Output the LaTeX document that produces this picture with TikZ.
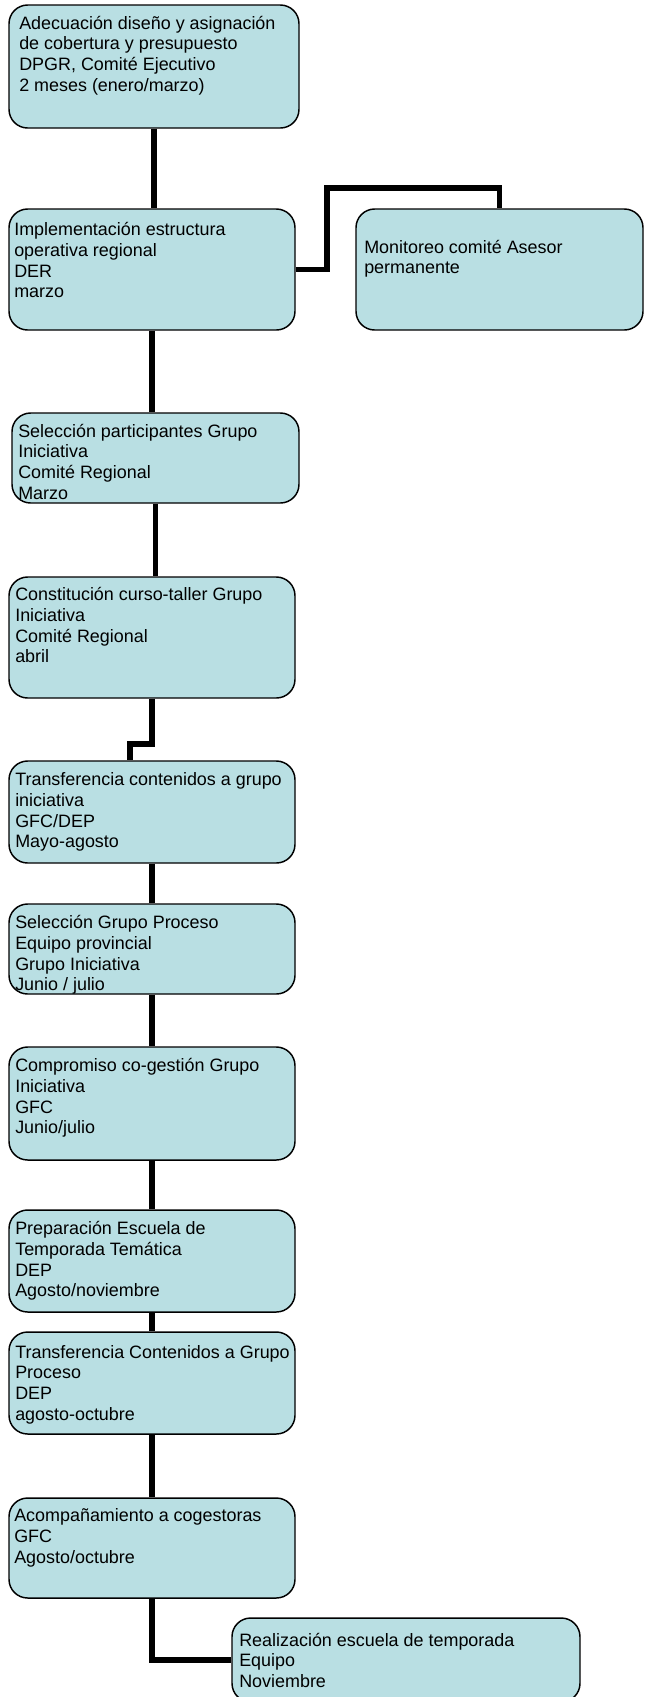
\documentclass[tikz,border=0pt]{standalone}
\usepackage{fontspec}
\setmainfont{Liberation Sans}
\usetikzlibrary{fit}
\definecolor{boxfill}{RGB}{185,223,227}
\newcommand{\firstrule}{\rule{0pt}{12pt}}
\begin{document}
\begin{tikzpicture}[x=0.75pt,y=-0.75pt,
  box/.style={draw=black,line width=1.1pt,fill=boxfill,rounded corners=14pt,inner sep=0pt},
  txt/.style={anchor=north west,inner sep=0pt,align=left,font=\fontsize{13.45}{15.5}\selectfont},
  conn/.style={draw=black,line width=4pt,line join=miter}]
\useasboundingbox (0,0) rectangle (644,1697);
% boxes
\node[box, fit={(9,5) (299,128)}] (b1) {};
\node[box, fit={(9,209) (295,330)}] (b2) {};
\node[box, fit={(356,209) (643,330)}] (m) {};
\node[box, fit={(12,413) (299,503)}] (b3) {};
\node[box, fit={(9,577) (295,698)}] (b4) {};
\node[box, fit={(9,761) (295,863)}] (b5) {};
\node[box, fit={(9,904) (295,994)}] (b6) {};
\node[box, fit={(9,1047) (295,1160)}] (b7) {};
\node[box, fit={(9,1210) (295,1312)}] (b8) {};
\node[box, fit={(9,1332) (295,1434)}] (b9) {};
\node[box, fit={(9,1498) (295,1598)}] (b10) {};
\node[box, fit={(232,1618) (580,1702)}] (b11) {};
% texts
\node[txt] (t1) at (19,13) {\firstrule Adecuación diseño y asignación\\de cobertura y presupuesto\\DPGR, Comité Ejecutivo\\2 meses (enero/marzo)};
\node[txt] (t2) at (14,219.5) {\firstrule Implementación estructura\\operativa regional\\DER\\marzo};
\node[txt] (tm) at (364,237) {\firstrule Monitoreo comité Asesor\\permanente};
\node[txt] (t3) at (18,421) {\firstrule Selección participantes Grupo\\Iniciativa\\Comité Regional\\Marzo};
\node[txt] (t4) at (15,584.5) {\firstrule Constitución curso-taller Grupo\\Iniciativa\\Comité Regional\\abril};
\node[txt] (t5) at (15,769.5) {\firstrule Transferencia contenidos a grupo\\iniciativa\\GFC/DEP\\Mayo-agosto};
\node[txt] (t6) at (15,912.5) {\firstrule Selección Grupo Proceso\\Equipo provincial\\Grupo Iniciativa\\Junio / julio};
\node[txt] (t7) at (15,1055.5) {\firstrule Compromiso co-gestión Grupo\\Iniciativa\\GFC\\Junio/julio};
\node[txt] (t8) at (15,1218.5) {\firstrule Preparación Escuela de\\Temporada Temática\\DEP\\Agosto/noviembre};
\node[txt] (t9) at (15,1342) {\firstrule Transferencia Contenidos a Grupo\\Proceso\\DEP\\agosto-octubre};
\node[txt] (t10) at (14,1505.5) {\firstrule Acompañamiento a cogestoras\\GFC\\Agosto/octubre};
\node[txt] (t11) at (239,1630) {\firstrule Realización escuela de temporada\\Equipo\\Noviembre};
% junctions
\coordinate (j1) at (327,188);
\coordinate (j2) at (130,744);
% connectors
\draw[conn] (b1.south) -- (b1.south |- b2.north);
\draw[conn] (b2.east) -| (j1) -| (m.north);
\draw[conn] (b2.south) -- (b2.south |- b3.north);
\draw[conn] (b3.south) -- (b3.south |- b4.north);
\draw[conn] (b4.south) |- (j2) -- (j2 |- b5.north);
\draw[conn] (b5.south) -- (b5.south |- b6.north);
\draw[conn] (b6.south) -- (b6.south |- b7.north);
\draw[conn] (b7.south) -- (b7.south |- b8.north);
\draw[conn] (b8.south) -- (b8.south |- b9.north);
\draw[conn] (b9.south) -- (b9.south |- b10.north);
\draw[conn] (b10.south) |- (b11.west);
\end{tikzpicture}
\end{document}
